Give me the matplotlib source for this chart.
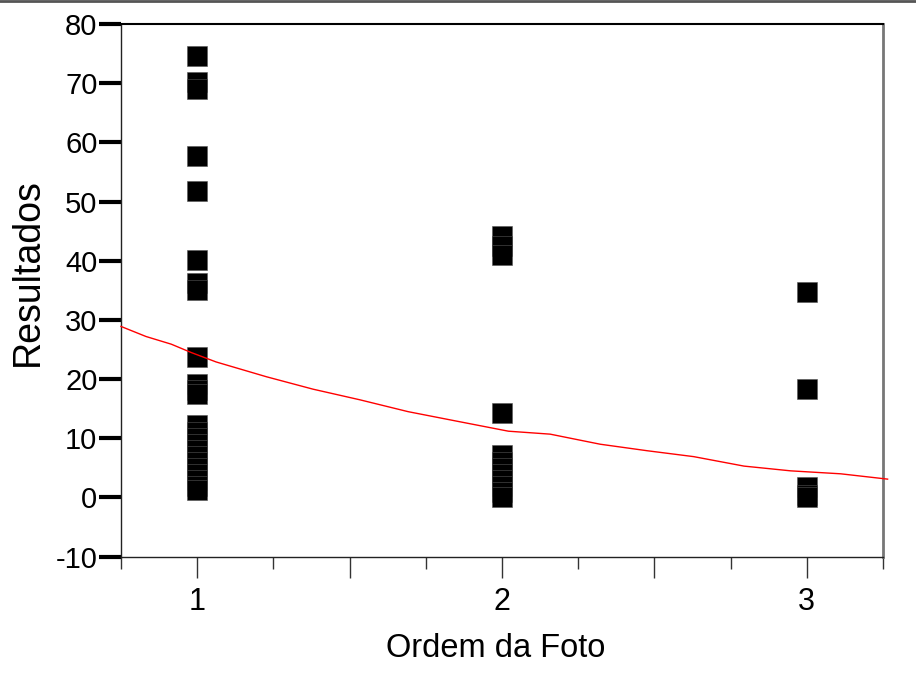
import numpy as np
import matplotlib
matplotlib.use("Agg")
import matplotlib.pyplot as plt
from matplotlib.lines import Line2D

plt.rcParams['font.family'] = ['Liberation Sans', 'DejaVu Sans']
plt.rcParams['axes.unicode_minus'] = False

# pontos observados (Ordem da Foto, Resultados)
ordem_1 = [74.6, 70.2, 69.0, 57.7, 51.7, 40.2, 36.3, 35.0, 23.7, 19.1, 18.2, 17.4,
           12.3, 11.0, 10.0, 9.0, 8.0, 7.0, 6.0, 5.0, 4.0, 3.0, 2.0, 1.3]
ordem_2 = [44.1, 42.5, 40.9, 14.3, 7.1, 6.0, 5.0, 4.0, 3.0, 2.0, 1.0, 0.0]
ordem_3 = [34.8, 18.4, 1.7, 0.5, 0.0]

# curva ajustada (vermelha)
curva_x = [0.750, 0.832, 0.915, 0.980, 1.062, 1.227, 1.380, 1.534, 1.692, 1.851,
           2.021, 2.158, 2.322, 2.476, 2.629, 2.794, 2.947, 3.111, 3.265]
curva_y = [28.9, 27.2, 25.9, 24.5, 22.9, 20.4, 18.3, 16.5, 14.5, 12.9,
           11.2, 10.7, 9.0, 7.9, 6.9, 5.3, 4.5, 4.0, 3.1]

fig = plt.figure(figsize=(9.16, 6.88), dpi=100)
ax = fig.add_axes([0.1321, 0.1909, 0.8319, 0.7742])

for xv, ys in zip([1, 2, 3], [ordem_1, ordem_2, ordem_3]):
    ax.plot([xv] * len(ys), ys, linestyle='none', marker='s', ms=14.4,
            mfc='black', mec='#555555', mew=0.4, zorder=2)

ax.plot(curva_x, curva_y, color='red', lw=1.0, zorder=3, clip_on=False)

ax.set_xlim(0.75, 3.25)
ax.set_ylim(-10, 80)

ax.set_xticks([1, 1.5, 2, 2.5, 3])
ax.set_xticklabels(['1', '', '2', '', '3'])
ax.set_xticks([0.75, 1.25, 1.75, 2.25, 2.75, 3.25], minor=True)
ax.set_yticks(np.arange(-10, 81, 10))

ax.tick_params(axis='y', direction='out', length=16, width=3, color='black',
               labelsize=21, pad=1)
ax.tick_params(axis='x', which='major', direction='out', length=15, width=1,
               color='#333333', labelsize=22, pad=7)
ax.tick_params(axis='x', which='minor', direction='out', length=8.6, width=1,
               color='#333333')

for s in ['left', 'bottom']:
    ax.spines[s].set_linewidth(1)
    ax.spines[s].set_color('#222222')
ax.spines['top'].set_linewidth(1.5)
ax.spines['top'].set_color('black')
ax.spines['right'].set_linewidth(2)
ax.spines['right'].set_color('#777777')

ax.set_xlabel('Ordem da Foto', fontsize=23.5)
ax.xaxis.set_label_coords(0.492, -0.143)
ax.set_ylabel('Resultados', fontsize=27)
ax.yaxis.set_label_coords(-0.122, 0.535)
ax.yaxis.label.set_va('center')

# moldura no topo da imagem
fig.add_artist(Line2D([0, 1], [0.998, 0.998], color='#555555', lw=2,
                      transform=fig.transFigure))

fig.savefig('out.png', dpi=100)
